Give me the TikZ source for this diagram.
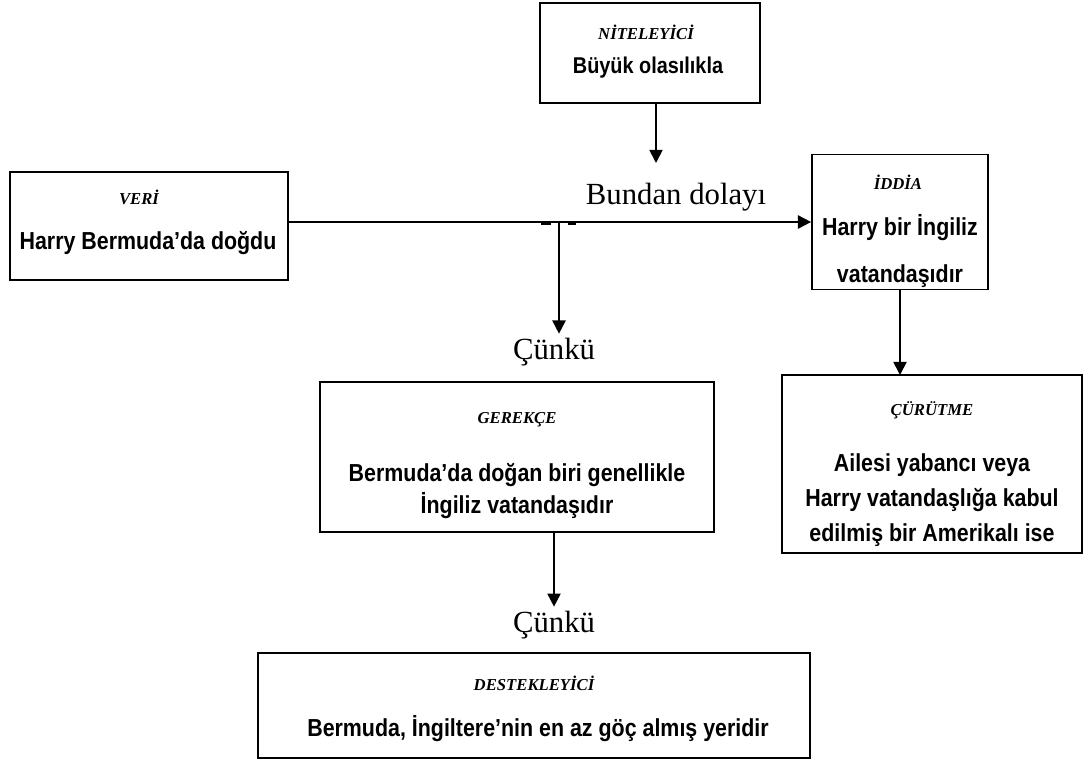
\documentclass[tikz,border=0pt]{standalone}
\usepackage{fontspec}
\setmainfont{Liberation Serif}
\newfontfamily\boxfont[FakeStretch=0.87]{Liberation Sans}
\usetikzlibrary{arrows.meta,positioning}

\begin{document}
\begin{tikzpicture}[x=0.02cm, y=-0.02cm, line width=1pt,
    >={Triangle[width=7.5pt,length=7.5pt]},
    box/.style={rectangle, draw, line width=1pt, inner sep=0pt},
    title/.style={font=\bfseries\itshape\fontsize{9.5}{11}\selectfont, inner sep=0pt},
    body/.style={font=\boxfont\bfseries\fontsize{14}{19}\selectfont, align=center, inner sep=0pt},
    word/.style={font=\fontsize{17.5}{20}\selectfont, inner sep=2pt}]

    \useasboundingbox (0,0) rectangle (1085,761);

    % Niteleyici
    \node[box, minimum width=4.4cm, minimum height=2cm] (nit) at (650,53) {};
    \node[title] (nit-t) at (646,32) {NİTELEYİCİ};
    \node[body, font=\boxfont\bfseries\fontsize{13}{19}\selectfont] (nit-b) at (648,68) {Büyük olasılıkla};
    \coordinate (nit-end) at (656,163);
    \draw[->] (nit-end |- nit.south) -- (nit-end);

    % Veri --> Iddia
    \node[box, minimum width=5.56cm, minimum height=2.16cm] (veri) at (149,226) {};
    \node[title] (veri-t) at (139,197) {VERİ};
    \node[body] (veri-b) at (148,243) {Harry Bermuda’da doğdu};

    \node[box, minimum width=3.52cm, minimum height=2.7cm] (iddia) at (900,222) {};
    \node[title] (iddia-t) at (898,182) {İDDİA};
    \node[body, font=\boxfont\bfseries\fontsize{14}{27}\selectfont] (iddia-b) at (900,251) {Harry bir İngiliz\\vatandaşıdır};

    \node[word] (dolayi) at (676,197) {Bundan dolayı};
    \draw[->] (veri.east |- iddia.west) -- (iddia.west);
    \coordinate (branch) at (559,222);
    \draw[line width=2pt] (541,223.5) -- (551,223.5) (568,223.5) -- (576,223.5);

    % Gerekce
    \node[word] (cunku1) at (554,352) {Çünkü};
    \draw[->] (branch) -- (branch |- cunku1.north);

    \node[box, minimum width=7.88cm, minimum height=3cm] (gerekce) at (517,457) {};
    \node[title] (gerekce-t) at (517,420) {GEREKÇE};
    \node[body, font=\boxfont\bfseries\fontsize{14}{18.7}\selectfont] (gerekce-b) at (517,491) {Bermuda’da doğan biri genellikle\\İngiliz vatandaşıdır};

    % Curutme
    \draw[->] (iddia.south) -- (iddia.south |- 0,375);
    \node[box, minimum width=6cm, minimum height=3.56cm] (curutme) at (932,464) {};
    \node[title] (curutme-t) at (932,410) {ÇÜRÜTME};
    \node[body, font=\boxfont\bfseries\fontsize{14}{19.8}\selectfont] (curutme-b) at (932,500) {Ailesi yabancı veya\\Harry vatandaşlığa kabul\\edilmiş bir Amerikalı ise};

    % Destekleyici
    \node[word] (cunku2) at (554,625) {Çünkü};
    \draw[->] (cunku2 |- gerekce.south) -- (cunku2.north);

    \node[box, minimum width=11.04cm, minimum height=2.1cm] (destek) at (534,705.5) {};
    \node[title] (destek-t) at (534,683) {DESTEKLEYİCİ};
    \node[body] (destek-b) at (538,729) {Bermuda, İngiltere’nin en az göç almış yeridir};
\end{tikzpicture}
\end{document}
